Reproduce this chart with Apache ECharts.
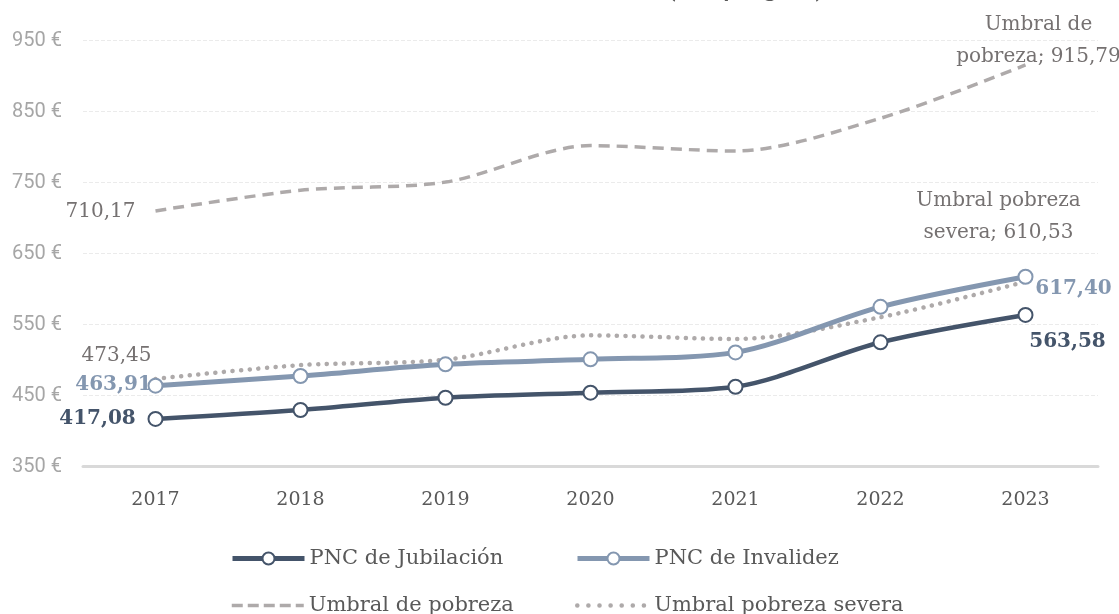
<!DOCTYPE html>
<html>
<head>
<meta charset="utf-8">
<script src="https://cdn.jsdelivr.net/npm/echarts@6/dist/echarts.min.js"></script>
<style>
  html, body { margin: 0; padding: 0; background: #fff; }
  #chart { width: 1119px; height: 614px; }
</style>
</head>
<body>
<div id="chart"></div>
<script>
// Monthly amounts (euros, 12 payments) of non-contributory pensions vs poverty lines
const years = ['2017', '2018', '2019', '2020', '2021', '2022', '2023'];
const jubilacion = [417.08, 429.6, 446.9, 454.0, 462.4, 525.0, 563.58];
const invalidez = [463.91, 477.5, 494.0, 501.0, 510.8, 575.0, 617.40];
const umbralPobreza = [710.17, 739.25, 750.75, 802.17, 794.58, 840.67, 915.79];
const umbralSevera = [473.45, 492.83, 500.5, 534.8, 529.7, 560.4, 610.53];
const yTicks = [350, 450, 550, 650, 750, 850, 950];

const SERIF = "'DejaVu Serif', 'Liberation Serif', serif";
const C_JUB = '#44546a';
const C_INV = '#8497b0';
const C_GRAY = '#aeaaaa';
const C_TXT = '#757171';
const CLEAR = 'rgba(0,0,0,0)';

const fmt = v => v.toFixed(2).replace('.', ',');

// Attach a label to selected points of a series
function withLabels(values, labels) {
  return values.map((v, i) => {
    const lab = labels[i];
    if (!lab) return v;
    return { value: v, label: Object.assign({ show: true, position: 'inside', fontFamily: SERIF, fontSize: 20 }, lab) };
  });
}

// One legend entry per component so each sits at a fixed spot
function legendEntry(name, left, top, extra) {
  return {
    left: left, top: top,
    itemWidth: 72, itemHeight: 15,
    selectedMode: false,
    data: [Object.assign({ name: name }, extra)],
    textStyle: { fontFamily: SERIF, fontSize: 21, color: '#595959' }
  };
}

const chart = echarts.init(document.getElementById('chart'));
chart.setOption({
  animation: false,
  backgroundColor: '#ffffff',
  title: {
    text: 'Cuantía de las PNC (12 pagas)',
    left: 360,
    top: -37,
    textStyle: { fontFamily: 'Roboto, sans-serif', fontSize: 34, fontWeight: 'normal', color: '#595959' }
  },
  grid: { left: 83, right: 21, top: 40.7, bottom: 147.5 },
  legend: [
    legendEntry('PNC de Jubilación', 225, 543, { lineStyle: { width: 5 } }),
    legendEntry('PNC de Invalidez', 570, 543, { lineStyle: { width: 5 } }),
    legendEntry('Umbral de pobreza', 225, 590, { lineStyle: { width: 3.5, type: [11, 5] } }),
    legendEntry('Umbral pobreza severa', 570, 590, { lineStyle: { width: 4.5, type: [0.1, 11], cap: 'round' } })
  ],
  xAxis: {
    type: 'category',
    data: years,
    boundaryGap: true,
    axisLine: { lineStyle: { color: '#d9d9d9', width: 3 } },
    axisTick: { show: false },
    axisLabel: { fontFamily: SERIF, fontSize: 19, color: '#595959', margin: 24 }
  },
  yAxis: {
    type: 'value',
    min: yTicks[0],
    max: yTicks[yTicks.length - 1],
    interval: 100,
    axisLine: { show: false },
    axisTick: { show: false },
    axisLabel: {
      fontFamily: 'Roboto, sans-serif', fontSize: 20, color: '#a6a6a6', margin: 21,
      formatter: v => v + ' €'
    },
    splitLine: { lineStyle: { color: '#ebebeb', width: 1, type: 'dashed' } }
  },
  series: [
    {
      name: 'Umbral de pobreza',
      type: 'line',
      smooth: 0.3,
      symbol: 'circle',
      symbolSize: 1,
      color: C_GRAY,
      itemStyle: { color: CLEAR, borderWidth: 0 },
      lineStyle: { color: C_GRAY, width: 3.5, type: [11, 7] },
      z: 2,
      data: withLabels(umbralPobreza, {
        0: { formatter: p => fmt(p.value), offset: [-55, 1], color: C_TXT },
        6: { formatter: p => 'Umbral de\npobreza; ' + fmt(p.value), offset: [13, -24], lineHeight: 32, color: C_TXT, align: 'center' }
      })
    },
    {
      name: 'Umbral pobreza severa',
      type: 'line',
      smooth: 0.3,
      symbol: 'circle',
      symbolSize: 1,
      color: C_GRAY,
      itemStyle: { color: CLEAR, borderWidth: 0 },
      lineStyle: { color: C_GRAY, width: 4.5, type: [0.1, 8.5], cap: 'round' },
      z: 2,
      data: withLabels(umbralSevera, {
        0: { formatter: p => fmt(p.value), offset: [-39, -23], color: C_TXT },
        6: { formatter: p => 'Umbral pobreza\nsevera; ' + fmt(p.value), offset: [-27, -65], lineHeight: 32, color: C_TXT, align: 'center' }
      })
    },
    {
      name: 'PNC de Jubilación',
      type: 'line',
      smooth: 0.3,
      symbol: 'circle',
      symbolSize: 14,
      color: C_JUB,
      itemStyle: { color: '#ffffff', borderColor: C_JUB, borderWidth: 2 },
      lineStyle: { color: C_JUB, width: 4.5 },
      z: 4,
      data: withLabels(jubilacion, {
        0: { formatter: p => fmt(p.value), offset: [-58, 0], fontWeight: 'bold', color: C_JUB },
        6: { formatter: p => fmt(p.value), offset: [42, 27], fontWeight: 'bold', color: C_JUB }
      })
    },
    {
      name: 'PNC de Invalidez',
      type: 'line',
      smooth: 0.3,
      symbol: 'circle',
      symbolSize: 14,
      color: C_INV,
      itemStyle: { color: '#ffffff', borderColor: C_INV, borderWidth: 2 },
      lineStyle: { color: C_INV, width: 5 },
      z: 3,
      data: withLabels(invalidez, {
        0: { formatter: p => fmt(p.value), offset: [-42, -1], fontWeight: 'bold', color: C_INV },
        6: { formatter: p => fmt(p.value), offset: [48, 12], fontWeight: 'bold', color: C_INV }
      })
    }
  ]
});
</script>
</body>
</html>
